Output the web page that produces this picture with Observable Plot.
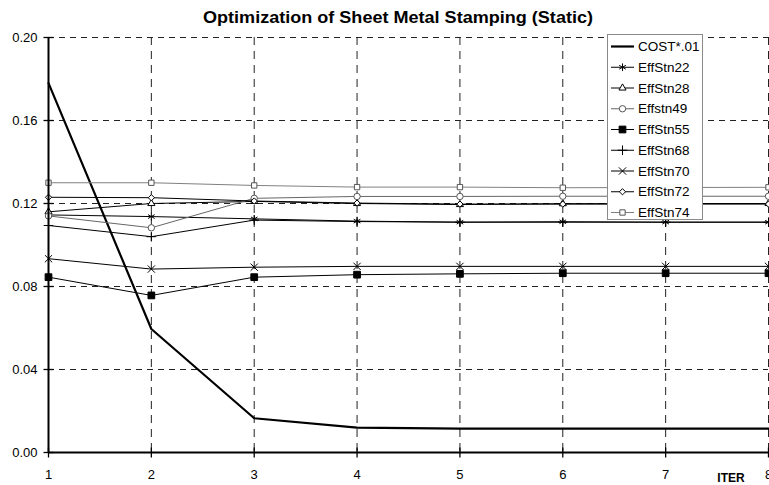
<!DOCTYPE html>
<html><head><meta charset="utf-8">
<script src="https://cdn.jsdelivr.net/npm/d3@7"></script>
<script src="https://cdn.jsdelivr.net/npm/@observablehq/plot@0.6"></script>
<style>body{margin:0;background:#fff;} svg{display:block;}</style>
</head><body><div id="chart"></div>
<script>
// ---- data ----
const titleText = "Optimization of Sheet Metal Stamping (Static)";
const xLabel = "ITER";
const iter = [1, 2, 3, 4, 5, 6, 7, 8];
const yTicks = [0, 0.04, 0.08, 0.12, 0.16, 0.20];
const seriesNames = ["COST*.01", "EffStn22", "EffStn28", "Effstn49", "EffStn55", "EffStn68", "EffStn70", "EffStn72", "EffStn74"];
const cost      = [0.178, 0.0595, 0.0165, 0.0120, 0.0115, 0.0115, 0.0115, 0.0115];
const effStn22  = [0.1145, 0.1137, 0.1126, 0.1115, 0.1110, 0.1112, 0.1110, 0.1110];
const effStn28  = [0.1160, 0.1200, 0.1210, 0.1200, 0.1195, 0.1199, 0.1200, 0.1200];
const effStn49  = [0.1140, 0.1083, 0.1225, 0.1234, 0.1234, 0.1235, 0.1235, 0.1235];
const effStn55  = [0.0845, 0.0757, 0.0845, 0.0857, 0.0861, 0.0864, 0.0864, 0.0864];
const effStn68  = [0.1094, 0.1040, 0.1120, 0.1113, 0.1110, 0.1110, 0.1110, 0.1110];
const effStn70  = [0.0934, 0.0884, 0.0893, 0.0897, 0.0897, 0.0897, 0.0897, 0.0897];
const effStn72  = [0.1230, 0.1228, 0.1212, 0.1202, 0.1197, 0.1197, 0.1197, 0.1197];
const effStn74  = [0.1300, 0.1300, 0.1287, 0.1279, 0.1279, 0.1276, 0.1277, 0.1278];
const seriesValues = [cost, effStn22, effStn28, effStn49, effStn55, effStn68, effStn70, effStn72, effStn74];

// ---- styles ----
const styles = {
  "COST*.01": {stroke: "#000", width: 2.2, symbol: null},
  "EffStn22": {stroke: "#000", width: 1, symbol: "asterisk", fill: "none", r: 3.6, mstroke: "#000"},
  "EffStn28": {stroke: "#000", width: 1, symbol: "triangle2", fill: "#fff", r: 3.4, mstroke: "#000"},
  "Effstn49": {stroke: "#666", width: 1, symbol: "circle", fill: "#fff", r: 3.2, mstroke: "#555"},
  "EffStn55": {stroke: "#000", width: 1, symbol: "square", fill: "#000", r: 3.8, mstroke: "#000"},
  "EffStn68": {stroke: "#000", width: 1, symbol: "plus", fill: "none", r: 3.2, mstroke: "#000"},
  "EffStn70": {stroke: "#000", width: 1, symbol: "times", fill: "none", r: 3.4, mstroke: "#000"},
  "EffStn72": {stroke: "#000", width: 1, symbol: "diamond2", fill: "#fff", r: 2.8, mstroke: "#000"},
  "EffStn74": {stroke: "#808080", width: 1, symbol: "square2", fill: "#fff", r: 3.4, mstroke: "#555"}
};

const data = seriesNames.flatMap((s, i) => iter.map((x, j) => ({series: s, iter: x, value: seriesValues[i][j]})));

const hTick = {draw(ctx) { ctx.moveTo(-5, 0); ctx.lineTo(5, 0); }};
const vTick = {draw(ctx) { ctx.moveTo(0, -5); ctx.lineTo(0, 5); }};

const seriesMarks = seriesNames.flatMap(s => {
  const st = styles[s];
  const sub = data.filter(d => d.series === s);
  const m = [Plot.line(sub, {x: "iter", y: "value", stroke: st.stroke, strokeWidth: st.width})];
  if (st.symbol) m.push(Plot.dot(sub, {x: "iter", y: "value", symbol: st.symbol, r: st.r, stroke: st.mstroke, fill: st.fill, strokeWidth: 1}));
  return m;
});

const chart = Plot.plot({
  width: 769, height: 485,
  marginLeft: 48, marginRight: 1, marginTop: 37, marginBottom: 33,
  x: {domain: [1, 8], label: null},
  y: {domain: [0, 0.2], label: null},
  style: {fontFamily: "'Liberation Sans', Arial, sans-serif", fontSize: "13px", background: "#fff", color: "#000"},
  marks: [
    Plot.ruleY(yTicks.slice(1), {y: d => d, stroke: "#222", strokeDasharray: "6,5", strokeWidth: 1}),
    Plot.ruleX(iter.slice(1), {x: d => d, stroke: "#222", strokeDasharray: "8,6", strokeWidth: 1}),
    Plot.axisY({ticks: yTicks, tickFormat: d3.format(".2f"), tickSize: 0, tickPadding: 11, label: null, fontSize: 13}),
    Plot.axisX({ticks: iter, tickFormat: d => String(d), tickSize: 0, tickPadding: 17, label: null, fontSize: 13}),
    ...seriesMarks,
    Plot.ruleY([0], {stroke: "#000", strokeWidth: 2}),
    Plot.ruleX([1], {stroke: "#000", strokeWidth: 2}),
    Plot.dot(yTicks, {y: d => d, frameAnchor: "left", symbol: hTick, stroke: "#000", fill: "none", strokeWidth: 1.3}),
    Plot.dot(iter, {x: d => d, frameAnchor: "bottom", symbol: vTick, stroke: "#000", fill: "none", strokeWidth: 1.3})
  ]
});

document.getElementById("chart").appendChild(chart);
const svg = d3.select(chart);

// title
svg.append("text")
  .attr("x", 398).attr("y", 23)
  .attr("text-anchor", "middle")
  .attr("font-family", "'Liberation Sans Narrow', 'Liberation Sans', Arial, sans-serif")
  .attr("font-weight", "bold").attr("font-size", 17)
  .attr("textLength", 390).attr("lengthAdjust", "spacingAndGlyphs")
  .text(titleText);

// x axis label
svg.append("text")
  .attr("x", 731).attr("y", 482)
  .attr("text-anchor", "middle")
  .attr("font-family", "'Liberation Sans Narrow', 'Liberation Sans', Arial, sans-serif")
  .attr("font-weight", "bold").attr("font-size", 12)
  .text(xLabel);

// legend
const lg = svg.append("g").attr("font-family", "'Liberation Sans', Arial, sans-serif").attr("font-size", 13.5).attr("text-anchor", "start");
lg.append("rect").attr("x", 607.5).attr("y", 34.5).attr("width", 95).attr("height", 185)
  .attr("fill", "#fff").attr("stroke", "#8a8a8a").attr("stroke-width", 1);
const symMap = {asterisk: d3.symbolAsterisk, triangle2: d3.symbolTriangle2, circle: d3.symbolCircle, square: d3.symbolSquare,
  plus: d3.symbolPlus, times: d3.symbolTimes, diamond2: d3.symbolDiamond2, square2: d3.symbolSquare2};
seriesNames.forEach((s, i) => {
  const st = styles[s];
  const y = 46.5 + i * 20.75;
  const g = lg.append("g").attr("transform", `translate(0,${y})`);
  g.append("line").attr("x1", 611).attr("x2", 634).attr("y1", 0).attr("y2", 0)
    .attr("stroke", st.stroke).attr("stroke-width", st.width);
  if (st.symbol) {
    g.append("path").attr("transform", "translate(622.5,0)")
      .attr("d", d3.symbol(symMap[st.symbol], st.r * st.r * Math.PI)())
      .attr("fill", st.fill).attr("stroke", st.mstroke).attr("stroke-width", 1);
  }
  g.append("text").attr("x", 638).attr("y", 0).attr("dy", "0.35em").attr("text-anchor", "start").attr("fill", "#000").text(s);
});
</script></body></html>
